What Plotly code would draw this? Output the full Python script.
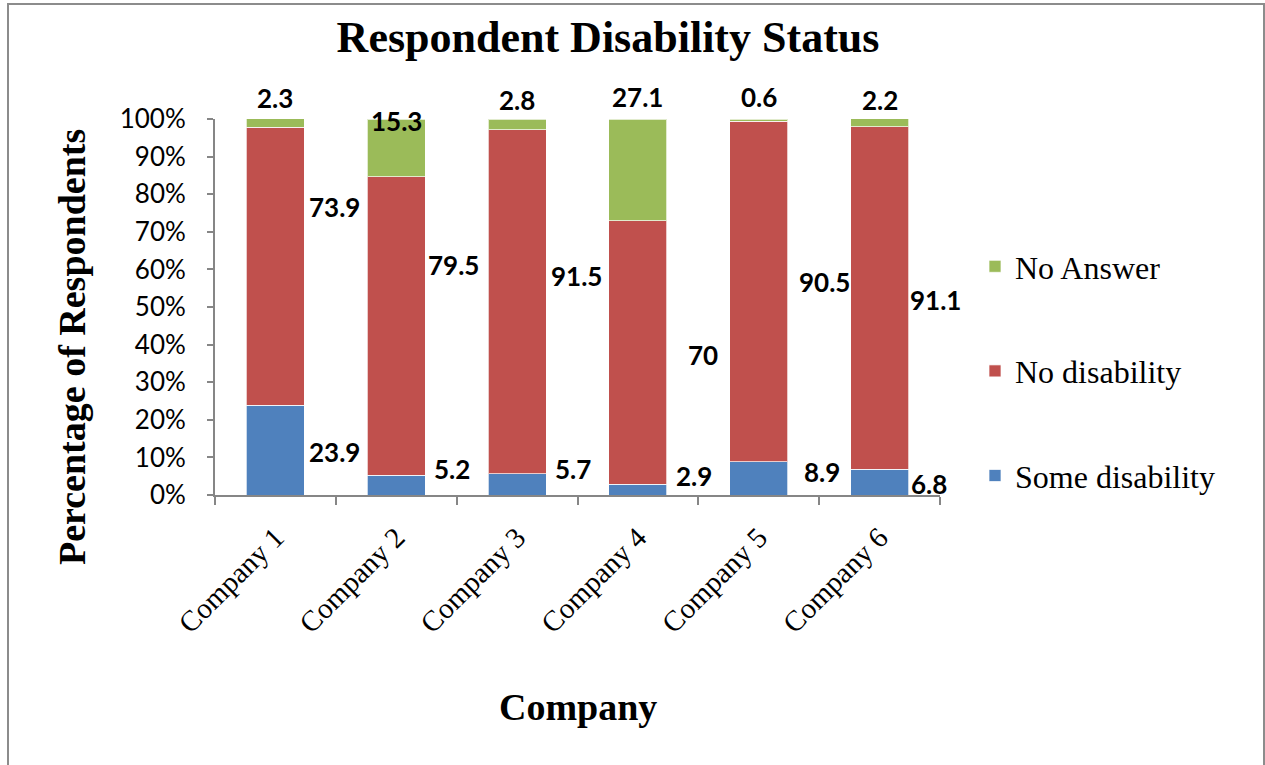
import plotly.graph_objects as go

companies = ["Company 1", "Company 2", "Company 3", "Company 4", "Company 5", "Company 6"]
some_disability = [23.9, 5.2, 5.7, 2.9, 8.9, 6.8]
no_disability = [73.9, 79.5, 91.5, 70, 90.5, 91.1]
no_answer = [2.3, 15.3, 2.8, 27.1, 0.6, 2.2]
y_ticks = [0, 10, 20, 30, 40, 50, 60, 70, 80, 90, 100]
y_tick_text = [f"{v}%" for v in y_ticks]

# label placement (category index offset, y in %) as shown in the original
lab_some_dx = [0.49, 0.46, 0.46, 0.46, 0.52, 0.41]
lab_some_y = [11.4, 6.9, 6.9, 5.0, 6.1, 2.9]
lab_no_dx = [0.49, 0.47, 0.49, 0.54, 0.54, 0.46]
lab_no_y = [76.6, 61.2, 58.2, 37.2, 56.6, 51.9]
lab_na_dx = [0.0, 0.0, 0.0, 0.0, 0.0, 0.0]
lab_na_y = [105.5, 99.6, 105.0, 105.8, 105.8, 105.0]

C_BLUE = "#4F81BD"
C_RED = "#C0504D"
C_GREEN = "#9BBB59"
SERIF = "'Liberation Serif', 'DejaVu Serif', serif"
SANS = "Lato"

L, R, T, B = 215, 325, 119, 270
PW, PH = 1265 - L - R, 765 - T - B


def px_x(p):
    return (p - L) / PW


def px_y(p):
    return (765 - B - p) / PH


fig = go.Figure()
for name, vals, col, rank in [("Some disability", some_disability, C_BLUE, 3),
                              ("No disability", no_disability, C_RED, 2),
                              ("No Answer", no_answer, C_GREEN, 1)]:
    fig.add_trace(go.Bar(x=companies, y=vals, name=name, legendgroup=name, legendrank=rank,
                         marker=dict(color=col, line=dict(color="rgba(255,255,255,0.7)", width=1))))

Y_MAX = 100.0
ann = []
for vals, dxs, ys in [(some_disability, lab_some_dx, lab_some_y),
                      (no_disability, lab_no_dx, lab_no_y),
                      (no_answer, lab_na_dx, lab_na_y)]:
    for i, v in enumerate(vals):
        ann.append(dict(x=i + dxs[i], y=ys[i] / Y_MAX, xref="x", yref="paper", text=f"<b>{v:g}</b>",
                        showarrow=False, font=dict(family=SANS, size=26, color="black"),
                        xanchor="center", yanchor="middle"))

# axis titles
ann.append(dict(x=px_x(72), y=px_y(347), xref="paper", yref="paper",
                text="<b>Percentage of Respondents</b>", textangle=-90, showarrow=False,
                font=dict(family=SERIF, size=38, color="black"), xanchor="center", yanchor="middle"))
ann.append(dict(x=px_x(578), y=px_y(707), xref="paper", yref="paper",
                text="<b>Company</b>", showarrow=False,
                font=dict(family=SERIF, size=38, color="black"), xanchor="center", yanchor="middle"))

fig.update_layout(
    width=1265, height=765,
    font=dict(family=SERIF, color="black"),
    barmode="stack", bargap=0.52,
    paper_bgcolor="white", plot_bgcolor="white",
    margin=dict(l=L, r=R, t=T, b=B, autoexpand=False),
    title=dict(text="<b>Respondent Disability Status</b>", x=608 / 1265, xanchor="center",
               y=1 - 37 / 765, yanchor="middle", xref="container", yref="container",
               font=dict(family=SERIF, size=44, color="black")),
    annotations=ann,
    legend=dict(x=975 / 1265, xanchor="left", y=1 - 371 / 765, yanchor="middle",
                xref="container", yref="container",
                traceorder="grouped", tracegroupgap=60,
                font=dict(family=SERIF, size=32, color="black"), bgcolor="rgba(0,0,0,0)"),
    showlegend=True,
    xaxis=dict(range=[-0.5, len(companies) - 0.5],
               showline=True, linecolor="#868686", linewidth=2, ticks="outside",
               tickson="boundaries", ticklen=8, tickcolor="#868686", tickwidth=2,
               tickangle=-45, tickfont=dict(family=SERIF, size=29, color="black"),
               ticklabelstandoff=12,
               showgrid=False, zeroline=False, automargin=False),
    yaxis=dict(range=[0, 100], tickvals=y_ticks, ticktext=y_tick_text,
               showline=True, linecolor="#868686", linewidth=2, ticks="outside",
               ticklen=6, tickcolor="#868686", tickwidth=2,
               tickfont=dict(family=SANS, size=26, color="black"),
               ticklabelstandoff=16, showgrid=False, zeroline=False, automargin=False),
    shapes=[dict(type="rect", xref="paper", yref="paper",
                 x0=px_x(8), x1=px_x(1264), y0=px_y(790), y1=px_y(4),
                 line=dict(color="#8C8C8C", width=2), fillcolor="rgba(0,0,0,0)", layer="below")],
)

fig.write_html("out.html")
